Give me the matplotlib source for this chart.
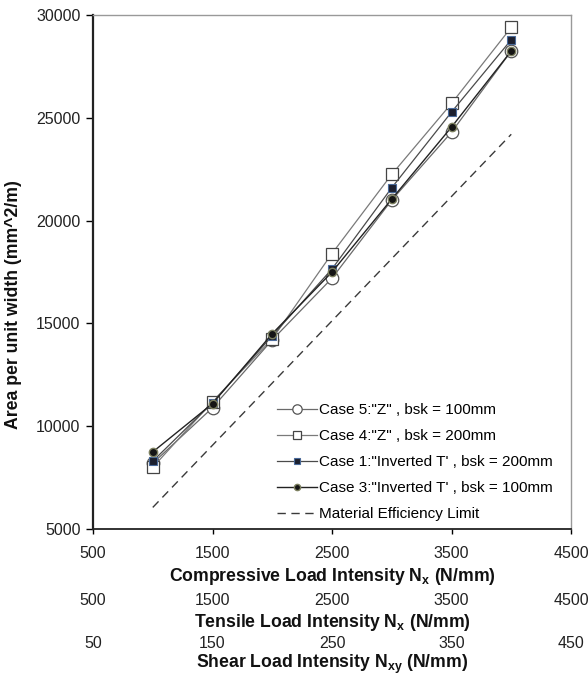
import numpy as np
import matplotlib
matplotlib.use("Agg")
import matplotlib.pyplot as plt

plt.rcParams['font.family'] = ['Liberation Sans', 'DejaVu Sans']
plt.rcParams['mathtext.fontset'] = 'custom'
plt.rcParams['mathtext.rm'] = 'Liberation Sans'
plt.rcParams['mathtext.bf'] = 'Liberation Sans:bold'

# load intensity (N/mm) and area per unit width (mm^2/m)
load = [1000, 1500, 2000, 2500, 3000, 3500, 4000]
case5_z_100 = [8200, 10900, 14200, 17200, 21000, 24300, 28250]
case4_z_200 = [8000, 11200, 14250, 18400, 22250, 25700, 29400]
case1_t_200 = [8300, 11150, 14400, 17650, 21600, 25280, 28800]
case3_t_100 = [8750, 11100, 14500, 17500, 21050, 24550, 28250]
material_limit = [6050, 9075, 12100, 15125, 18150, 21175, 24200]

x_ticks = [500, 1500, 2500, 3500, 4500]
shear_ticks = [50, 150, 250, 350, 450]
y_ticks = [5000, 10000, 15000, 20000, 25000, 30000]

fig = plt.figure(figsize=(5.88, 6.77), dpi=100)
ax = fig.add_axes([0.1582, 0.2186, 0.8129, 0.7592])

ax.plot(load, case5_z_100, color='#6a6a6a', lw=0.9, marker='o', ms=9,
        mfc='white', mec='#555555', mew=0.9, label='Case 5:"Z" , bsk = 100mm', zorder=3)
ax.plot(load, case4_z_200, color='#7a7a7a', lw=0.9, marker='s', ms=8.5,
        mfc='white', mec='#444444', mew=0.9, label='Case 4:"Z" , bsk = 200mm', zorder=3)
ax.plot(load, case1_t_200, color='#4a4a4a', lw=0.9, marker='s', ms=5.5,
        mfc='#1c1f2e', mec='#4a6a9a', mew=0.8, label='Case 1:"Inverted T\' , bsk = 200mm', zorder=4)
ax.plot(load, case3_t_100, color='#222222', lw=1.0, marker='o', ms=6,
        mfc='#151515', mec='#7d8060', mew=1.0, label='Case 3:"Inverted T\' , bsk = 100mm', zorder=5)
ax.plot(load, material_limit, color='#3a3a3a', lw=1.0, ls=(0, (6, 4)),
        label='Material Efficiency Limit', zorder=2)

ax.set_xlim(500, 4500)
ax.set_ylim(5000, 30000)
ax.set_xticks(x_ticks)
ax.set_yticks(y_ticks)

for side in ['top', 'right']:
    ax.spines[side].set_color('#999999')
    ax.spines[side].set_linewidth(1.0)
ax.spines['left'].set_color('#222222')
ax.spines['left'].set_linewidth(1.6)
ax.spines['bottom'].set_color('#222222')
ax.spines['bottom'].set_linewidth(1.3)

ax.tick_params(axis='y', direction='out', length=5, width=1.0, pad=4,
               labelsize=11.5, labelcolor='#222222')
ax.tick_params(axis='x', direction='out', length=3.5, width=1.0, pad=8.5,
               labelsize=11.5, labelcolor='#222222')

ax.set_ylabel('Area per unit width (mm^2/m)', fontsize=12.7, fontweight='bold',
              color='#111111')
ax.yaxis.set_label_coords(-0.148, 0.436)
ax.set_xlabel(r'Compressive Load Intensity $\mathbf{N_x}$ (N/mm)', fontsize=12.7,
              fontweight='bold', color='#111111', labelpad=3.5)

sec1 = ax.secondary_xaxis(-0.0914)
sec1.set_xticks(x_ticks)
sec1.spines['bottom'].set_visible(False)
sec1.tick_params(length=0, pad=12, labelsize=11.5, labelcolor='#222222')
sec1.set_xlabel(r'Tensile Load Intensity $\mathbf{N_x}$ (N/mm)', fontsize=12.7,
                fontweight='bold', color='#111111', labelpad=3)

sec2 = ax.secondary_xaxis(-0.177, functions=(lambda v: v / 10.0, lambda v: v * 10.0))
sec2.set_xticks(shear_ticks)
sec2.spines['bottom'].set_visible(False)
sec2.tick_params(length=0, pad=11.5, labelsize=11.5, labelcolor='#222222')
sec2.set_xlabel(r'Shear Load Intensity $\mathbf{N_{xy}}$ (N/mm)', fontsize=12.7,
                fontweight='bold', color='#111111', labelpad=1)

ax.legend(loc='center left', bbox_to_anchor=(0.385, 0.13), frameon=False,
          fontsize=11, handlelength=2.6, handletextpad=0.15, labelspacing=0.78,
          borderpad=0, borderaxespad=0, markerscale=0.75)

fig.savefig('out.png', dpi=100)
